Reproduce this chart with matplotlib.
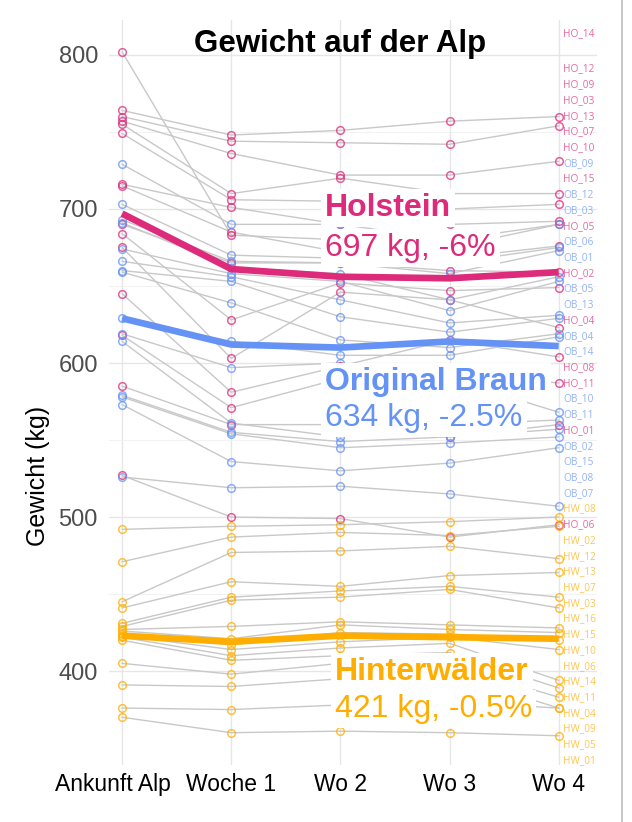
import numpy as np
import matplotlib.pyplot as plt
from matplotlib.lines import Line2D

plt.rcParams['font.family'] = ['Liberation Sans', 'DejaVu Sans']

weeks = ['Ankunft Alp', 'Woche 1', 'Wo 2', 'Wo 3', 'Wo 4']

# Holstein, single animals (kg)
ho_names = ['HO_14', 'HO_12', 'HO_09', 'HO_03', 'HO_13', 'HO_07', 'HO_10', 'HO_15',
            'HO_05', 'HO_02', 'HO_04', 'HO_08', 'HO_11', 'HO_01', 'HO_06']
ho_values = [
    [764, 748, 751, 757, 760],
    [760, 744, 743, 742, 754],
    [757, 736, 722, 722, 731],
    [755, 710, 720, 710, 710],
    [749, 706, 705, 700, 703],
    [716, 701, 690, 690, 692],
    [715, 685, 672, 675, 690],
    [802, 683, 680, 668, 676],
    [690, 665, 665, 660, 659],
    [684, 628, 652, 647, 649],
    [675, 603, 646, 641, 623],
    [645, 581, 598, 615, 604],
    [618, 571, 590, 595, 587],
    [585, 560, 560, 552, 560],
    [527, 500, 499, 487, 495],
]

# Original Braun
ob_names = ['OB_09', 'OB_12', 'OB_03', 'OB_06', 'OB_01', 'OB_05', 'OB_13', 'OB_04',
            'OB_14', 'OB_10', 'OB_11', 'OB_02', 'OB_15', 'OB_08', 'OB_07']
ob_values = [
    [729, 690, 690, 680, 690],
    [703, 670, 668, 665, 675],
    [693, 666, 665, 658, 673],
    [691, 662, 658, 641, 656],
    [674, 658, 653, 634, 653],
    [666, 656, 641, 626, 631],
    [660, 653, 630, 620, 629],
    [659, 639, 615, 610, 619],
    [629, 614, 605, 605, 617],
    [619, 597, 600, 590, 568],
    [614, 561, 552, 560, 563],
    [579, 555, 549, 552, 557],
    [578, 554, 545, 548, 552],
    [573, 536, 530, 535, 545],
    [526, 519, 520, 515, 507],
]

# Hinterwaelder
hw_names = ['HW_08', 'HW_02', 'HW_12', 'HW_13', 'HW_07', 'HW_03', 'HW_16', 'HW_15',
            'HW_10', 'HW_06', 'HW_14', 'HW_11', 'HW_04', 'HW_09', 'HW_05', 'HW_01']
hw_values = [
    [492, 494, 495, 497, 500],
    [471, 487, 490, 488, 494],
    [445, 477, 478, 481, 473],
    [441, 458, 455, 462, 464],
    [431, 448, 452, 455, 448],
    [429, 446, 448, 453, 441],
    [427, 429, 432, 430, 428],
    [426, 421, 430, 427, 425],
    [424, 417, 425, 424, 420],
    [423, 414, 419, 422, 414],
    [422, 410, 415, 418, 394],
    [420, 407, 410, 412, 389],
    [405, 398, 405, 404, 383],
    [391, 390, 395, 398, 376],
    [376, 375, 378, 380, 376],
    [370, 360, 361, 360, 358],
]

# breed means (thick lines)
ho_mean = [697, 661, 656, 655, 659]
ob_mean = [629, 612, 610, 614, 611]
hw_mean = [423, 419, 423, 422, 421]

breed_titles = ['Holstein', 'Original Braun', 'Hinterwälder']
breed_notes = ['697 kg, -6%', '634 kg, -2.5%', '421 kg, -0.5%']

c_ho = '#DD2A7B'
c_ob = '#6593F5'
c_hw = '#FFAE00'

fig = plt.figure(figsize=(6.32, 8.22), dpi=100)
ax = fig.add_axes([0.1725, 0.0693, 0.772, 0.9064])
x = np.arange(len(weeks))

groups = [(ho_values, ho_names, c_ho), (ob_values, ob_names, c_ob), (hw_values, hw_names, c_hw)]

for vals, names, col in groups:
    for v in vals:
        ax.plot(x, v, color='#c8c8c8', lw=1.0, zorder=2)
for vals, names, col in groups:
    for v in vals:
        ax.plot(x, v, ls='none', marker='o', ms=5.5, mfc='none', mec=col,
                mew=1.1, alpha=0.75, zorder=3)

for m, col in [(ho_mean, c_ho), (ob_mean, c_ob), (hw_mean, c_hw)]:
    ax.plot(x, m, color=col, lw=4.8, zorder=4, solid_capstyle='butt')

# simple repel of the end labels
end = []
for vals, names, col in groups:
    for v, n in zip(vals, names):
        end.append((v[-1], n, col))
end.sort(key=lambda t: -t[0])
gap = 10.2
pos = [e[0] for e in end]
pos[0] = pos[0] + 54
for i in range(1, len(pos)):
    pos[i] = min(pos[i], pos[i - 1] - gap)
lo = 342
if pos[-1] < lo:
    pos[-1] = lo
    for i in range(len(pos) - 2, -1, -1):
        pos[i] = max(pos[i], pos[i + 1] + gap)
for (v, n, col), p in zip(end, pos):
    ax.text(4.04, p, n, fontsize=7.3, color=col, alpha=0.7, va='center',
            ha='left', zorder=5, family=['Open Sans', 'DejaVu Sans'])

# breed labels
label_pos = [(1.86, 700.5, 674.5), (1.86, 587.5, 564.5), (1.95, 399.5, 375.5)]
for (lx, y1, y2), t, note, col in zip(label_pos, breed_titles, breed_notes, [c_ho, c_ob, c_hw]):
    ax.text(lx, y1, t, fontsize=23, fontweight='bold', color=col, va='center',
            ha='left', zorder=6, bbox=dict(facecolor='white', edgecolor='none', pad=3))
    ax.text(lx, y2, note, fontsize=23, color=col, va='center', ha='left', zorder=6,
            bbox=dict(facecolor='white', edgecolor='none', pad=3))

ax.set_xlim(-0.12, 4.35)
ax.set_ylim(339, 822.7)
ax.set_xticks(x)
# trailing spaces nudge the first label a bit to the left
ax.set_xticklabels([weeks[0] + '   '] + weeks[1:], fontsize=16.5, color='black')
ax.set_yticks([400, 500, 600, 700, 800])
ax.set_yticks([450, 550, 650, 750], minor=True)
ax.tick_params(axis='y', labelsize=17, colors='#4D4D4D', length=0, pad=8)
ax.tick_params(axis='y', which='minor', length=0)
ax.tick_params(axis='x', length=0, pad=6)
ax.grid(True, which='major', color='#e6e6e6', lw=1.0, zorder=0)
ax.grid(True, which='minor', axis='y', color='#f0f0f0', lw=0.6, zorder=0)
for s in ax.spines.values():
    s.set_visible(False)
ax.set_axisbelow(True)
ax.set_ylabel('Gewicht (kg)', fontsize=18, color='black')
ax.yaxis.set_label_coords(-0.12, 0.388)

fig.text(0.538, 0.947, 'Gewicht auf der Alp', fontsize=22.5, fontweight='bold',
         ha='center', va='center')

fig.add_artist(Line2D([622 / 632, 622 / 632], [0, 1], color='#bdbdbd', lw=1.2))

fig.savefig('out.png', dpi=100)
